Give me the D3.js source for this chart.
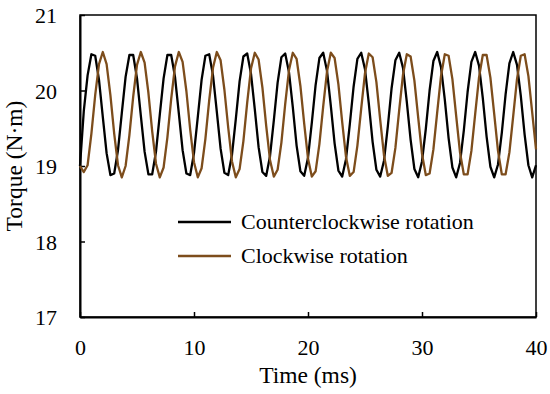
<!DOCTYPE html>
<html>
<head>
<meta charset="utf-8">
<script src="https://cdn.jsdelivr.net/npm/d3@7"></script>
<style>
  body { margin: 0; background: #fff; }
  text { font-family: "Liberation Serif", "Times New Roman", serif; }
</style>
</head>
<body>
<script>
// sampling interval of both traces (ms)
var sampleStep = 1 / 3;

// torque (N·m), counterclockwise rotation
var ccwTorque = [
  19.00, 19.73, 20.20, 20.48, 20.46, 20.14, 19.65, 19.17, 18.88, 18.90,
  19.21, 19.70, 20.18, 20.47, 20.47, 20.16, 19.67, 19.19, 18.89, 18.89,
  19.19, 19.68, 20.16, 20.47, 20.47, 20.18, 19.70, 19.21, 18.90, 18.88,
  19.17, 19.65, 20.14, 20.46, 20.48, 20.20, 19.72, 19.23, 18.91, 18.88,
  19.15, 19.62, 20.12, 20.45, 20.49, 20.22, 19.75, 19.25, 18.92, 18.87,
  19.13, 19.60, 20.10, 20.44, 20.49, 20.24, 19.78, 19.27, 18.93, 18.87,
  19.11, 19.57, 20.07, 20.43, 20.50, 20.26, 19.80, 19.30, 18.94, 18.86,
  19.09, 19.55, 20.05, 20.42, 20.50, 20.28, 19.83, 19.32, 18.95, 18.86,
  19.07, 19.52, 20.03, 20.40, 20.50, 20.30, 19.85, 19.35, 18.96, 18.85,
  19.06, 19.49, 20.00, 20.39, 20.51, 20.31, 19.88, 19.37, 18.98, 18.85,
  19.04, 19.47, 19.98, 20.38, 20.51, 20.33, 19.90, 19.39, 18.99, 18.85,
  19.02, 19.44, 19.95, 20.36, 20.51, 20.34, 19.93, 19.42, 19.01, 18.85,
  19.01
];

// torque (N·m), clockwise rotation
var cwTorque = [
  19.00, 18.92, 19.01, 19.43, 19.94, 20.35, 20.51, 20.35, 19.94, 19.43,
  19.01, 18.85, 19.00, 19.41, 19.92, 20.34, 20.51, 20.37, 19.97, 19.46,
  19.03, 18.85, 18.98, 19.38, 19.89, 20.32, 20.51, 20.38, 19.99, 19.48,
  19.05, 18.85, 18.97, 19.36, 19.87, 20.30, 20.51, 20.40, 20.01, 19.51,
  19.06, 18.85, 18.96, 19.33, 19.84, 20.29, 20.50, 20.41, 20.04, 19.53,
  19.08, 18.86, 18.95, 19.31, 19.82, 20.27, 20.50, 20.42, 20.06, 19.56,
  19.10, 18.86, 18.93, 19.29, 19.79, 20.25, 20.50, 20.43, 20.08, 19.58,
  19.12, 18.87, 18.92, 19.27, 19.76, 20.23, 20.49, 20.44, 20.11, 19.61,
  19.14, 18.87, 18.91, 19.24, 19.74, 20.21, 20.48, 20.45, 20.13, 19.64,
  19.16, 18.88, 18.90, 19.22, 19.71, 20.19, 20.48, 20.46, 20.15, 19.66,
  19.18, 18.89, 18.89, 19.20, 19.69, 20.17, 20.47, 20.47, 20.17, 19.69,
  19.20, 18.89, 18.89, 19.18, 19.66, 20.15, 20.46, 20.48, 20.19, 19.71,
  19.22
];

var xTicks = [0, 10, 20, 30, 40];
var yTicks = [17, 18, 19, 20, 21];
var seriesNames = ["Counterclockwise rotation", "Clockwise rotation"];
var seriesColors = ["#000000", "#7d4d1c"];

var width = 550, height = 394;
var margin = { left: 80, right: 14, top: 15, bottom: 77 };

var svg = d3.select("body").append("svg")
  .attr("width", width)
  .attr("height", height);

var x = d3.scaleLinear().domain([0, 40]).range([margin.left, width - margin.right]);
var y = d3.scaleLinear().domain([17, 21]).range([height - margin.bottom, margin.top]);

// frame (top + right, no ticks)
svg.append("rect")
  .attr("x", x(0)).attr("y", y(21))
  .attr("width", x(40) - x(0)).attr("height", y(17) - y(21))
  .attr("fill", "none").attr("stroke", "#000").attr("stroke-width", 1.5);

// axes with inward ticks
var xAxis = svg.append("g")
  .attr("transform", "translate(0," + y(17) + ")")
  .call(d3.axisBottom(x).tickValues(xTicks).tickFormat(d3.format("d"))
    .tickSizeInner(-5).tickSizeOuter(0).tickPadding(22));
var yAxis = svg.append("g")
  .attr("transform", "translate(" + x(0) + ",0)")
  .call(d3.axisLeft(y).tickValues(yTicks).tickFormat(d3.format("d"))
    .tickSizeInner(-5).tickSizeOuter(0).tickPadding(23));

[xAxis, yAxis].forEach(function (g) {
  g.select(".domain").attr("stroke-width", 2);
  g.selectAll(".tick line").attr("stroke-width", 1.5);
  g.selectAll(".tick text")
    .attr("font-family", "Liberation Serif, Times New Roman, serif")
    .attr("font-size", 22)
    .attr("fill", "#000");
});
yAxis.selectAll(".tick text").attr("dy", "0.35em");

// lines
var line = d3.line()
  .x(function (d, i) { return x(i * sampleStep); })
  .y(function (d) { return y(d); });

[ccwTorque, cwTorque].forEach(function (data, k) {
  svg.append("path")
    .datum(data)
    .attr("fill", "none")
    .attr("stroke", seriesColors[k])
    .attr("stroke-width", 2.3)
    .attr("stroke-linejoin", "round")
    .attr("d", line);
});

// legend
var legend = svg.append("g");
seriesNames.forEach(function (name, k) {
  var ly = 222 + k * 34;
  legend.append("line")
    .attr("x1", 178).attr("x2", 231)
    .attr("y1", ly).attr("y2", ly)
    .attr("stroke", seriesColors[k])
    .attr("stroke-width", 2.5);
  legend.append("text")
    .attr("x", 241).attr("y", ly + 7)
    .attr("font-size", 22)
    .text(name);
});

// axis titles
svg.append("text")
  .attr("x", x(20)).attr("y", 383)
  .attr("text-anchor", "middle")
  .attr("font-size", 23.5)
  .text("Time (ms)");

svg.append("text")
  .attr("transform", "translate(22," + y(19) + ") rotate(-90)")
  .attr("text-anchor", "middle")
  .attr("font-size", 23.5)
  .text("Torque (N·m)");
</script>
</body>
</html>
